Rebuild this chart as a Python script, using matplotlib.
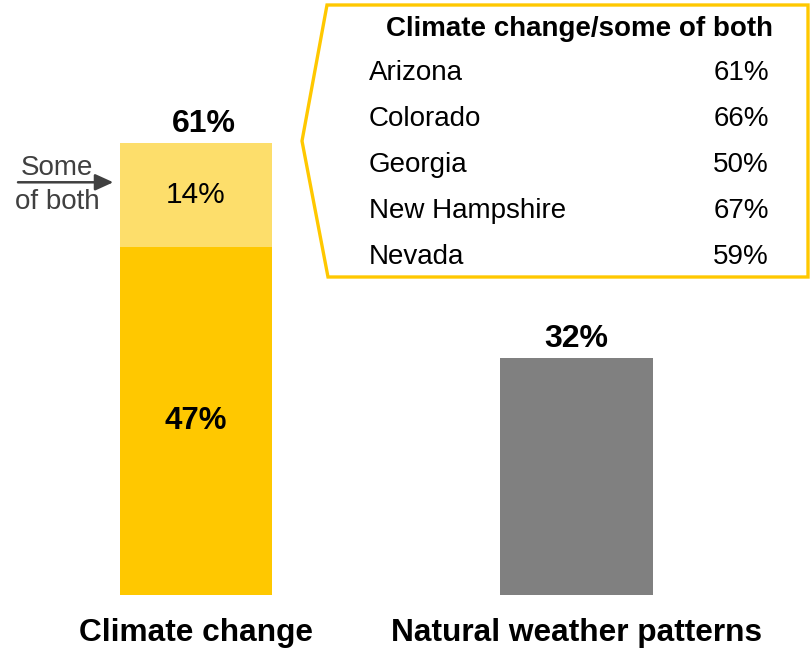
import matplotlib.pyplot as plt
from matplotlib.patches import Polygon

plt.rcParams['font.family'] = ['Liberation Sans', 'DejaVu Sans']

categories = ['Climate change', 'Natural weather patterns']
climate_only = 47
some_of_both = 14
natural = 32
states = ['Arizona', 'Colorado', 'Georgia', 'New Hampshire', 'Nevada']
state_values = [61, 66, 50, 67, 59]

W, H = 811, 648
fig = plt.figure(figsize=(W / 100, H / 100), dpi=100)
ax = fig.add_axes([0, 0, 1, 1])
ax.set_xlim(-0.515, 1.616)
ax.set_ylim(-7.15, 80.3)
ax.axis('off')

gold = '#FFC800'
light = '#FDDE6B'
grey = '#808080'

ax.bar(0, climate_only, width=0.4, color=gold)
ax.bar(0, some_of_both, bottom=climate_only, width=0.4, color=light)
ax.bar(1, natural, width=0.4, color=grey)

total = climate_only + some_of_both
ax.text(0, climate_only / 2, f'{climate_only}%', ha='center', va='center',
        fontsize=22.5, fontweight='bold')
ax.text(0, climate_only + some_of_both / 2, f'{some_of_both}%', ha='center',
        va='center', fontsize=21.5)
ax.annotate(f'{total}%', (0, total), xytext=(6, 3), textcoords='offset points',
            ha='center', va='bottom', fontsize=23, fontweight='bold')
ax.annotate(f'{natural}%', (1, natural), xytext=(0, 3), textcoords='offset points',
            ha='center', va='bottom', fontsize=23, fontweight='bold')

for i, c in enumerate(categories):
    ax.text(i, -6.15, c, ha='center', va='baseline', fontsize=22.8,
            fontweight='bold')

# "Some of both" pointer
ax.annotate('', xy=(-0.21, climate_only + some_of_both / 2 + 1.7),
            xytext=(-0.475, climate_only + some_of_both / 2 + 1.7),
            arrowprops=dict(arrowstyle='-|>,head_length=1.1,head_width=0.5',
                            color='#404040', lw=1.8))
ax.text(-0.365, climate_only + some_of_both / 2 + 3.6, 'Some', ha='center',
        va='center', fontsize=20, color='#404040')
ax.text(-0.365, climate_only + some_of_both / 2 - 0.9, 'of both', ha='center',
        va='center', fontsize=20, color='#404040')


def fx(px):
    return px / W


def fy(py):
    return 1 - py / H


# callout box
pts = [(327, 5), (808, 5), (808, 277), (328, 277), (302, 141)]
poly = Polygon([(fx(x), fy(y)) for x, y in pts], closed=True, fill=False,
               edgecolor=gold, lw=2.4, transform=fig.transFigure)
fig.add_artist(poly)

fig.text(fx(579), fy(29), 'Climate change/some of both', ha='center',
         va='center', fontsize=20, fontweight='bold')
for i, (s, v) in enumerate(zip(states, state_values)):
    y = fy(73 + 46 * i)
    fig.text(fx(369), y, s, ha='left', va='center', fontsize=20)
    fig.text(fx(769), y, f'{v}%', ha='right', va='center', fontsize=20)

fig.savefig('out.png', dpi=100)
